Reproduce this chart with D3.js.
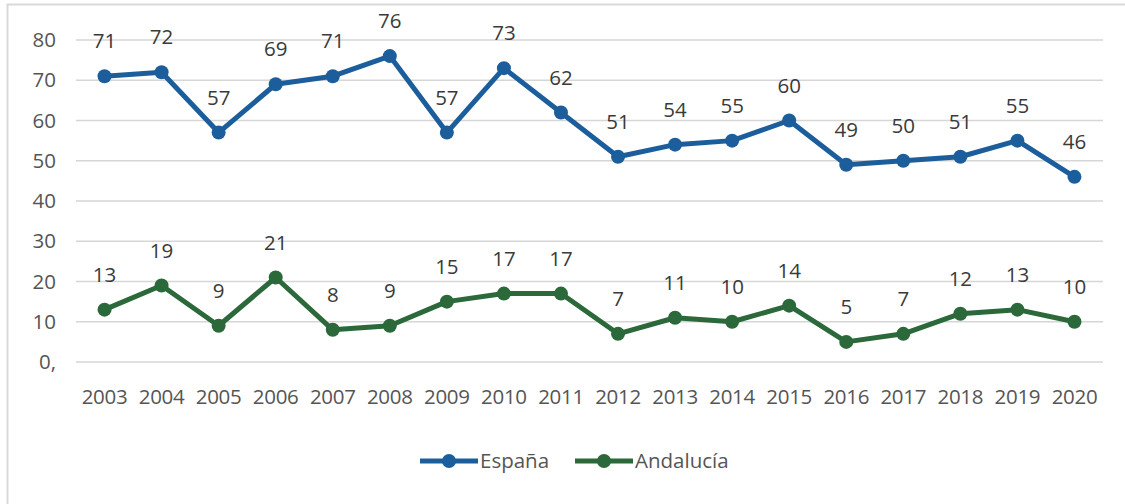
<!DOCTYPE html>
<html><head><meta charset="utf-8">
<script src="https://cdn.jsdelivr.net/npm/d3@7"></script>
<style>
html,body{margin:0;padding:0;background:#fff;}
svg{display:block;font-family:"Open Sans",sans-serif;}
</style></head>
<body>
<svg id="c" width="1125" height="504"></svg>
<script>
const years = ["2003","2004","2005","2006","2007","2008","2009","2010","2011","2012","2013","2014","2015","2016","2017","2018","2019","2020"];
const espana = [71,72,57,69,71,76,57,73,62,51,54,55,60,49,50,51,55,46];
const andalucia = [13,19,9,21,8,9,15,17,17,7,11,10,14,5,7,12,13,10];
const yTicks = [0,10,20,30,40,50,60,70,80];
const yTickLabels = ["0,","10","20","30","40","50","60","70","80"];
const seriesNames = ["España","Andalucía"];
const colors = ["#1c5e9b","#2b683a"];

const svg = d3.select("#c");
svg.append("rect").attr("x",7.5).attr("y",4.5).attr("width",1130).attr("height",520)
  .attr("fill","none").attr("stroke","#d9d9d9").attr("stroke-width",2);

const x = d3.scaleBand().domain(years).range([76,1103]);
const y = d3.scaleLinear().domain([0,80]).range([362,40]);

svg.append("g").selectAll("line").data(yTicks).join("line")
  .attr("x1",76).attr("x2",1103)
  .attr("y1",d=>y(d)).attr("y2",d=>y(d))
  .attr("stroke","#d6d6d6").attr("stroke-width",1.5);

svg.append("g").selectAll("text").data(yTicks).join("text")
  .attr("x",56).attr("y",d=>y(d)).attr("dy","0.35em")
  .attr("text-anchor","end").attr("font-size",20.5).attr("fill","#555")
  .text((d,i)=>yTickLabels[i]);

svg.append("g").selectAll("text").data(years).join("text")
  .attr("x",d=>x(d)+x.bandwidth()/2).attr("y",397).attr("dy","0.35em")
  .attr("text-anchor","middle").attr("font-size",20.5).attr("fill","#555")
  .attr("letter-spacing",-0.3)
  .text(d=>d);

const line = d3.line().x((d,i)=>x(years[i])+x.bandwidth()/2).y(d=>y(d));
[espana, andalucia].forEach((vals,si)=>{
  const g = svg.append("g");
  g.append("path").attr("d",line(vals)).attr("fill","none")
    .attr("stroke",colors[si]).attr("stroke-width",5).attr("stroke-linejoin","round");
  g.selectAll("circle").data(vals).join("circle")
    .attr("cx",(d,i)=>x(years[i])+x.bandwidth()/2).attr("cy",d=>y(d)).attr("r",7)
    .attr("fill",colors[si]);
  g.selectAll("text").data(vals).join("text")
    .attr("x",(d,i)=>x(years[i])+x.bandwidth()/2).attr("y",d=>y(d)-35).attr("dy","0.35em")
    .attr("text-anchor","middle").attr("font-size",20.5).attr("fill","#3a3a3a")
    .text(d=>d);
});

const legendItems = [{x:420,name:seriesNames[0],c:colors[0]},{x:575,name:seriesNames[1],c:colors[1]}];
const lg = svg.append("g");
legendItems.forEach(it=>{
  lg.append("line").attr("x1",it.x).attr("x2",it.x+58).attr("y1",461).attr("y2",461)
    .attr("stroke",it.c).attr("stroke-width",5);
  lg.append("circle").attr("cx",it.x+29).attr("cy",461).attr("r",7).attr("fill",it.c);
  lg.append("text").attr("x",it.x+60).attr("y",461).attr("dy","0.35em")
    .attr("font-size",20.5).attr("fill","#555").text(it.name);
});
</script>
</body></html>
